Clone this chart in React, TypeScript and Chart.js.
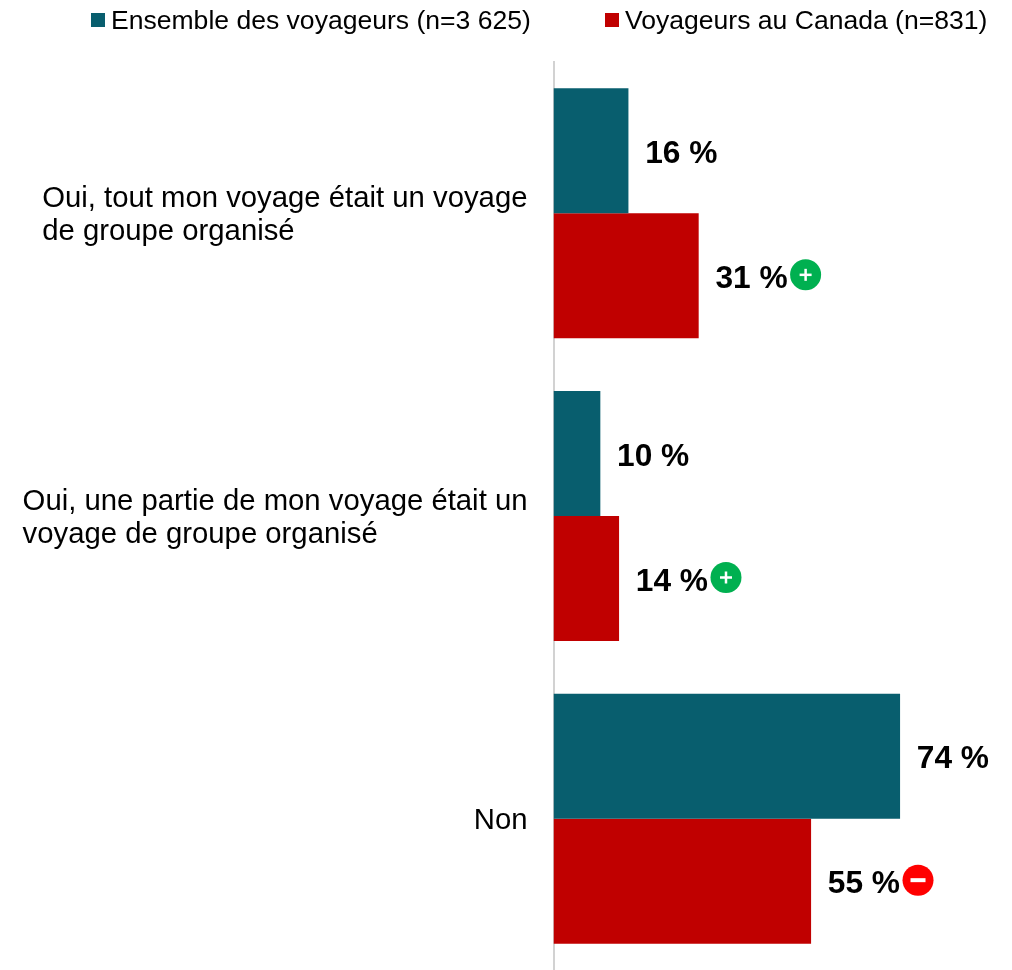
import React, { useEffect, useRef } from "react";
import { Chart, registerables } from "chart.js";

Chart.register(...registerables);

const categories: string[][] = [
  ["Oui, tout mon voyage était un voyage", "de groupe organisé"],
  ["Oui, une partie de mon voyage était un", "voyage de groupe organisé"],
  ["Non"],
];
const seriesNames = ["Ensemble des voyageurs (n=3 625)", "Voyageurs au Canada (n=831)"];
const allTravellers = [16, 10, 74];
const canadaTravellers = [31, 14, 55];
const canadaSignificance = ["+", "+", "-"];
const seriesColors = ["#085E6E", "#C00000"];
const legendSwatchX = [91, 605];

const FONT = '"Liberation Sans", Arial, sans-serif';
const TEXT_SIZE = 29.3;
const LEGEND_SIZE = 26.55;
const VALUE_SIZE = 31.7;

const customDraw = {
  id: "customDraw",
  afterDraw(chart: any) {
    const { ctx } = chart;
    ctx.save();

    // Legend
    ctx.font = `${LEGEND_SIZE}px ${FONT}`;
    ctx.textAlign = "left";
    ctx.textBaseline = "middle";
    chart.data.datasets.forEach((ds: any, i: number) => {
      ctx.fillStyle = seriesColors[i];
      ctx.fillRect(legendSwatchX[i], 13, 14, 14);
      ctx.fillStyle = "#000000";
      ctx.fillText(ds.label, legendSwatchX[i] + 20, 21.5);
    });

    // Category labels: block right-aligned to the axis, lines left-aligned
    const yScale = chart.scales.y;
    const lineHeight = 33;
    ctx.font = `${TEXT_SIZE}px ${FONT}`;
    ctx.fillStyle = "#000000";
    categories.forEach((lines, i) => {
      const center = yScale.getPixelForTick(i);
      const maxW = Math.max(...lines.map((l) => ctx.measureText(l).width));
      const x = 527.5 - maxW;
      lines.forEach((line, j) => {
        ctx.fillText(line, x, center + 2 + (j - (lines.length - 1) / 2) * lineHeight);
      });
    });

    // Value labels and significance markers
    chart.data.datasets.forEach((ds: any, di: number) => {
      const meta = chart.getDatasetMeta(di);
      meta.data.forEach((bar: any, i: number) => {
        const label = `${ds.data[i]} %`;
        const x = bar.x + 16.7;
        const y = bar.y;
        ctx.font = `bold ${VALUE_SIZE}px ${FONT}`;
        ctx.fillStyle = "#000000";
        ctx.textAlign = "left";
        ctx.fillText(label, x, y + 3.5);
        if (di === 1) {
          const sign = canadaSignificance[i];
          const w = ctx.measureText(label).width;
          const cx = x + w + 18;
          const cy = y - 1;
          ctx.beginPath();
          ctx.arc(cx, cy, 15.5, 0, Math.PI * 2);
          ctx.fillStyle = sign === "+" ? "#00B050" : "#FF0000";
          ctx.fill();
          ctx.fillStyle = "#FFFFFF";
          if (sign === "+") {
            ctx.fillRect(cx - 6, cy - 1.25, 12, 2.5);
            ctx.fillRect(cx - 1.25, cy - 6, 2.5, 12);
          } else {
            ctx.fillRect(cx - 7.5, cy - 2, 15, 4);
          }
        }
      });
    });
    ctx.restore();
  },
};

export default function App() {
  const ref = useRef<HTMLCanvasElement>(null);
  useEffect(() => {
    const chart = new Chart(ref.current!, {
      type: "bar",
      data: {
        labels: categories.map((c) => c.join(" ")),
        datasets: [
          { label: seriesNames[0], data: allTravellers, backgroundColor: seriesColors[0] },
          { label: seriesNames[1], data: canadaTravellers, backgroundColor: seriesColors[1] },
        ],
      },
      options: {
        indexAxis: "y",
        responsive: false,
        animation: false,
        layout: { padding: { left: 553.5, top: 62, right: 0, bottom: 0 } },
        datasets: { bar: { categoryPercentage: 0.826, barPercentage: 1 } },
        plugins: { legend: { display: false }, tooltip: { enabled: false }, title: { display: false } },
        scales: {
          x: { display: false, min: 0, max: 97.9 },
          y: {
            ticks: { display: false },
            grid: { display: false, drawTicks: false },
            border: { display: true, color: "#D2D2D2", width: 2 },
          },
        },
      },
      plugins: [customDraw],
    } as any);
    return () => chart.destroy();
  }, []);
  return (
    <div style={{ position: "absolute", left: 0, top: 0, width: 1012, height: 970 }}>
      <canvas ref={ref} width={1012} height={970} style={{ display: "block" }} />
    </div>
  );
}
